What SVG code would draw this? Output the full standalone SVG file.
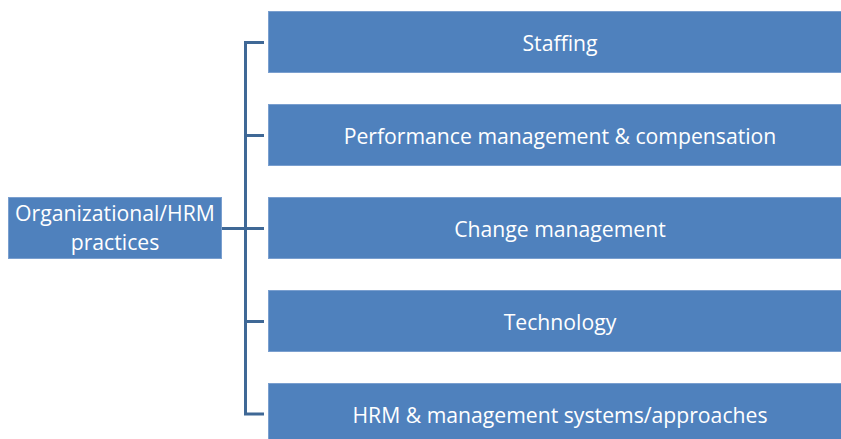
<svg xmlns="http://www.w3.org/2000/svg" width="841" height="439" viewBox="0 0 841 439">
  <style>
    .box { fill: #4F81BD; stroke: #7A9FCF; stroke-width: 1; }
    .lbl { fill: #FFFFFF; font-family: "Open Sans", "Liberation Sans", sans-serif; font-size: 21.2px; text-anchor: middle; dominant-baseline: central; }
    .conn { fill: none; stroke: #3F6896; stroke-width: 3; }
  </style>
  <rect x="0" y="0" width="841" height="439" fill="#FFFFFF"/>

  <g id="connectors">
    <path class="conn" d="M264 42.5 H245.5 V414 H264"/>
    <path class="conn" d="M245.5 135.5 H264 M245.5 228.5 H264 M245.5 321.5 H264"/>
    <path class="conn" d="M222 228.5 H245.5"/>
  </g>

  <g id="root">
    <rect class="box" x="8.5" y="197.5" width="213" height="61"/>
    <text class="lbl" x="115" y="212.5">Organizational/HRM</text>
    <text class="lbl" x="115" y="241.5">practices</text>
  </g>

  <g id="staffing">
    <rect class="box" x="268.5" y="11.5" width="583" height="61"/>
    <text class="lbl" x="560" y="42">Staffing</text>
  </g>
  <g id="performance">
    <rect class="box" x="268.5" y="104.5" width="583" height="61"/>
    <text class="lbl" x="560" y="135">Performance management &amp; compensation</text>
  </g>
  <g id="change">
    <rect class="box" x="268.5" y="197.5" width="583" height="61"/>
    <text class="lbl" x="560" y="228">Change management</text>
  </g>
  <g id="technology">
    <rect class="box" x="268.5" y="290.5" width="583" height="61"/>
    <text class="lbl" x="560" y="321">Technology</text>
  </g>
  <g id="hrm-systems">
    <rect class="box" x="268.5" y="383.5" width="583" height="61"/>
    <text class="lbl" x="560" y="414">HRM &amp; management systems/approaches</text>
  </g>
</svg>
